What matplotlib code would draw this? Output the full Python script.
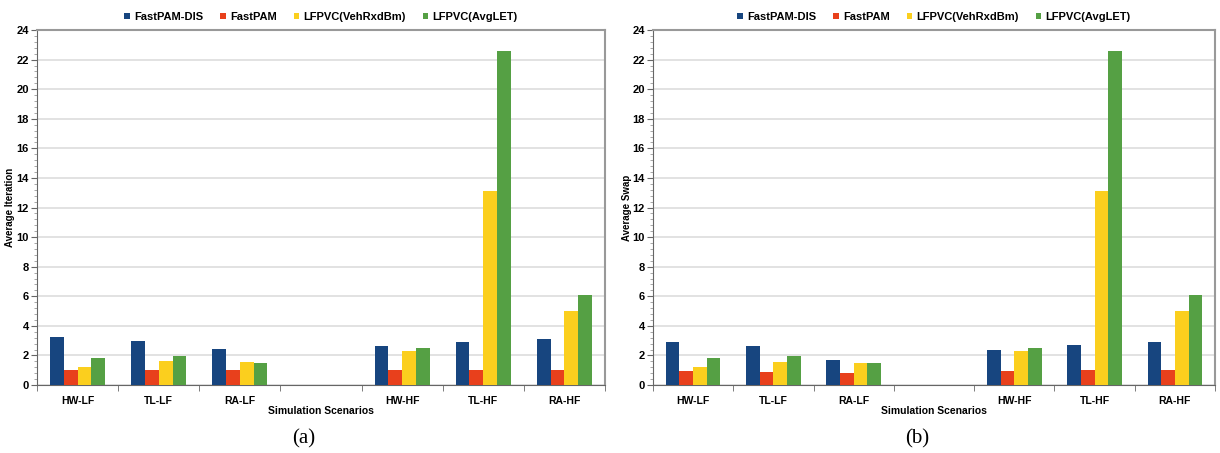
import matplotlib.pyplot as plt
import numpy as np
from matplotlib.ticker import MultipleLocator

# scenarios (4th slot left empty in the original chart)
scenarios = ['HW-LF', 'TL-LF', 'RA-LF', '', 'HW-HF', 'TL-HF', 'RA-HF']
series = ['FastPAM-DIS', 'FastPAM', 'LFPVC(VehRxdBm)', 'LFPVC(AvgLET)']
colors = ['#17457F', '#E8401C', '#FBCF1E', '#55A044']

# (a) average iteration
iter_dis = [3.25, 2.97, 2.45, 0, 2.65, 2.88, 3.08]
iter_pam = [1.0, 1.0, 1.0, 0, 1.0, 1.0, 1.0]
iter_veh = [1.25, 1.62, 1.57, 0, 2.3, 13.1, 5.0]
iter_let = [1.85, 1.97, 1.52, 0, 2.5, 22.6, 6.1]

# (b) average swap
swap_dis = [2.92, 2.65, 1.67, 0, 2.4, 2.73, 2.92]
swap_pam = [0.95, 0.88, 0.8, 0, 0.95, 1.0, 1.0]
swap_veh = [1.2, 1.58, 1.52, 0, 2.27, 13.1, 5.0]
swap_let = [1.8, 1.97, 1.47, 0, 2.47, 22.6, 6.1]

plt.rcParams['font.family'] = ['Liberation Sans', 'DejaVu Sans']

fig = plt.figure(figsize=(12.2, 4.53), dpi=100)
ax_a = fig.add_axes([37 / 1220, 68 / 453, 568 / 1220, 355 / 453])
ax_b = fig.add_axes([653 / 1220, 68 / 453, 562 / 1220, 355 / 453])


def draw(ax, data, ylabel, tag, ylab_x):
    x = np.arange(len(scenarios))
    w = 0.17
    for i, (vals, name, c) in enumerate(zip(data, series, colors)):
        ax.bar(x + (i - 1.5) * w, vals, w, color=c, label=name, zorder=3)
    ax.set_xlim(-0.5, len(scenarios) - 0.5)
    ax.set_ylim(0, 24)
    ax.yaxis.set_major_locator(MultipleLocator(2))
    ax.yaxis.set_minor_locator(MultipleLocator(0.4))
    ax.grid(axis='y', color='#DDDDDD', linewidth=1.2, zorder=0)
    ax.set_xticks(x)
    ax.set_xticklabels(scenarios, fontsize=7.5, fontweight='bold')
    ax.set_xticks(np.arange(len(scenarios) + 1) - 0.5, minor=True)
    ax.tick_params(axis='x', which='major', length=0, pad=8)
    ax.tick_params(axis='x', which='minor', length=4, color='#666666')
    ax.tick_params(axis='y', which='major', labelsize=8, length=4, color='#666666', pad=2)
    ax.tick_params(axis='y', which='minor', length=2, color='#999999')
    for lbl in ax.get_yticklabels():
        lbl.set_fontweight('bold')
    for s in ['top', 'right']:
        ax.spines[s].set_color('#999999')
        ax.spines[s].set_linewidth(1.5)
    for s in ['left', 'bottom']:
        ax.spines[s].set_color('#666666')
    ax.set_ylabel(ylabel, fontsize=7, fontweight='bold')
    ax.yaxis.set_label_coords(ylab_x, 0.5)
    ax.set_xlabel('Simulation Scenarios', fontsize=7.5, fontweight='bold', labelpad=0)
    ax.legend(loc='lower center', bbox_to_anchor=(0.5, 1.0), ncol=4, frameon=False,
              prop={'weight': 'bold', 'size': 8},
              handlelength=0.5, handleheight=0.5, handletextpad=0.4,
              columnspacing=1.5, borderaxespad=0.3)
    ax.text(0.47, -0.152, tag, transform=ax.transAxes, ha='center', va='center',
            fontsize=15, family=['Liberation Serif', 'DejaVu Serif'])


draw(ax_a, [iter_dis, iter_pam, iter_veh, iter_let], 'Average Iteration', '(a)', -0.039)
draw(ax_b, [swap_dis, swap_pam, swap_veh, swap_let], 'Average Swap', '(b)', -0.037)

fig.savefig('out.png', dpi=100)
